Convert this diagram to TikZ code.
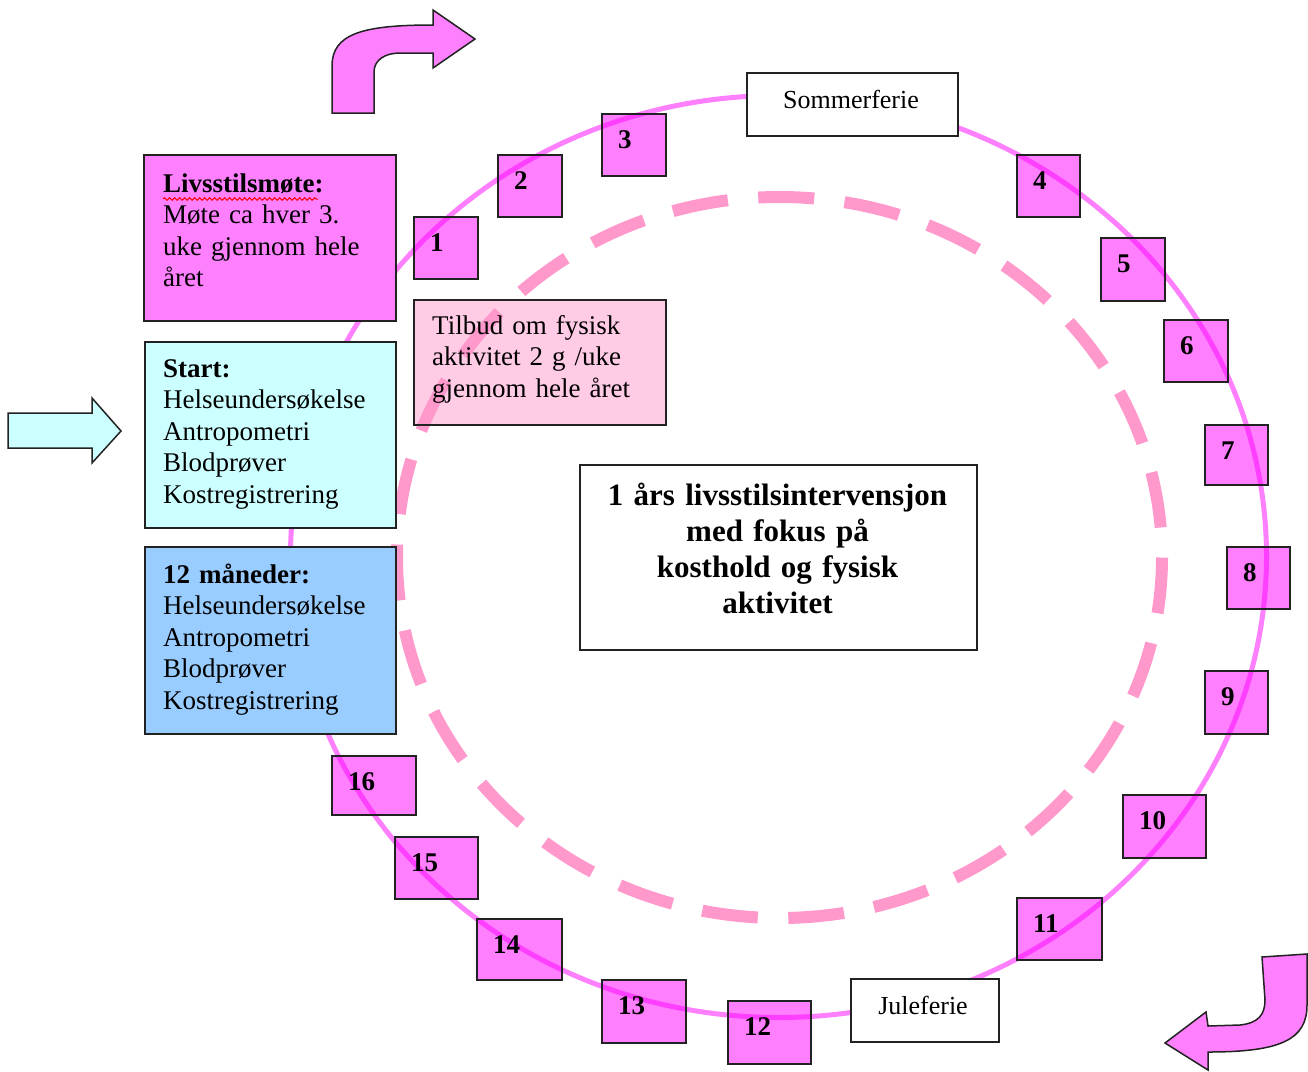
\documentclass[tikz,border=0pt]{standalone}
\usepackage{fontspec}
\setmainfont{Liberation Serif}
\usetikzlibrary{decorations.pathmorphing}
\definecolor{mag}{HTML}{FF80FF}
\definecolor{fullmag}{HTML}{FF00FF}
\definecolor{cyanl}{HTML}{CCFFFF}
\definecolor{bluel}{HTML}{99CCFF}
\definecolor{dpink}{HTML}{FF99CC}
\definecolor{edge}{HTML}{222222}
\tikzset{
  bx/.style={draw=edge, line width=2pt, inner sep=0pt, anchor=north west},
  nbox/.style={bx, fill=fullmag, fill opacity=0.5},
  ntxt/.style={inner sep=0pt, anchor=base west, font=\fontsize{27pt}{31.5pt}\selectfont\bfseries},
  txt/.style={inner sep=0pt, anchor=base west, align=left, text width=235pt, font=\fontsize{27pt}{31.5pt}\selectfont},
  arr/.style={draw=edge, line width=1.5pt, line join=miter},
}
\begin{document}
\begin{tikzpicture}[x=1pt,y=-1pt]
\useasboundingbox[fill=white] (0,0) rectangle (1308,1071);
% circles
\draw[mag, line width=5pt] (778.5,556.5) ellipse [x radius=488, y radius=461];
\draw[dpink, line width=12pt, dash pattern=on 56pt off 30.5pt] (779.5,557.5) ellipse [x radius=382.5, y radius=360.5];
% left boxes
\node[bx, fill=mag, minimum width=252pt, minimum height=166pt] (liv) at (143,154) {};
\node[txt] (livt) at (163,192) {\textbf{Livsstilsmøte:}\\Møte ca hver 3.\\uke gjennom hele\\året};
\draw[red, line width=1pt, decorate, decoration={snake, amplitude=1.3pt, segment length=5pt}] (163,199) -- (318,199);
\node[bx, fill=cyanl, minimum width=251pt, minimum height=186pt] (start) at (144,341) {};
\node[txt] (startt) at (163,377) {\textbf{Start:}\\Helseundersøkelse\\Antropometri\\Blodprøver\\Kostregistrering};
\node[bx, fill=bluel, minimum width=251pt, minimum height=187pt] (mnd) at (144,546) {};
\node[txt] (mndt) at (163,583) {\textbf{12 måneder:}\\Helseundersøkelse\\Antropometri\\Blodprøver\\Kostregistrering};
\node[bx, fill=dpink, fill opacity=0.5, minimum width=252pt, minimum height=125pt] (tilb) at (413,299) {};
\node[txt] (tilbt) at (432,334) {Tilbud om fysisk\\aktivitet 2 g /uke\\gjennom hele året};
% centre box
\node[bx, fill=white, minimum width=397pt, minimum height=185pt] (main) at (579,464) {};
\node[inner sep=0pt, anchor=base, align=center, text width=390pt, font=\fontsize{31pt}{36pt}\selectfont\bfseries] (maint) at (777.5,505) {1 års livsstilsintervensjon\\med fokus på\\kosthold og fysisk\\aktivitet};
% holidays
\node[bx, fill=white, minimum width=211pt, minimum height=63pt] (sommer) at (746,72) {};
\node[inner sep=0pt, anchor=base, font=\fontsize{26pt}{31pt}\selectfont] (sommert) at (851,108) {Sommerferie};
\node[bx, fill=white, minimum width=148pt, minimum height=63pt] (jule) at (850,978) {};
\node[inner sep=0pt, anchor=base, font=\fontsize{26pt}{31pt}\selectfont] (julet) at (923,1014) {Juleferie};
% number boxes
\foreach \n/\x/\y/\w/\h in {1/413/216/64/62, 2/497/154/64/62, 3/601/113/64/62, 4/1016/154/63/62,
  5/1100/237/64/63, 6/1163/319/64/62, 7/1204/424/63/60, 8/1226/546/63/62, 9/1204/670/63/63,
  10/1122/794/83/63, 11/1016/897/85/62, 12/727/1000/83/63, 13/601/979/84/63, 14/476/918/85/61,
  15/394/836/83/62, 16/331/755/84/59}{
  \node[nbox, minimum width=\w pt, minimum height=\h pt] (n\n) at (\x,\y) {};
  \node[ntxt] (t\n) at ([xshift=17pt,yshift=-35pt]n\n.north west) {\n};
}
% arrows
\draw[arr, fill=mag] (332,113) -- (332,66) .. controls (332,34) and (362,25) .. (433,25) -- (433,10) -- (475,39) -- (433,68) -- (433,53) -- (400,53) .. controls (385,53) and (374,60) .. (374,72) -- (374,113) -- cycle;
\draw[arr, fill=mag] (1262,957) -- (1307,954) -- (1307,1005) .. controls (1307,1040) and (1280,1052) .. (1208,1052) -- (1208,1070) -- (1165,1043) -- (1206,1012) -- (1208,1026) -- (1240,1025) .. controls (1258,1023) and (1265,1015) .. (1265,1000) -- cycle;
\draw[arr, fill=cyanl] (8,413) -- (92,413) -- (92,398) -- (121,431) -- (92,463) -- (92,448) -- (8,448) -- cycle;
\end{tikzpicture}
\end{document}
